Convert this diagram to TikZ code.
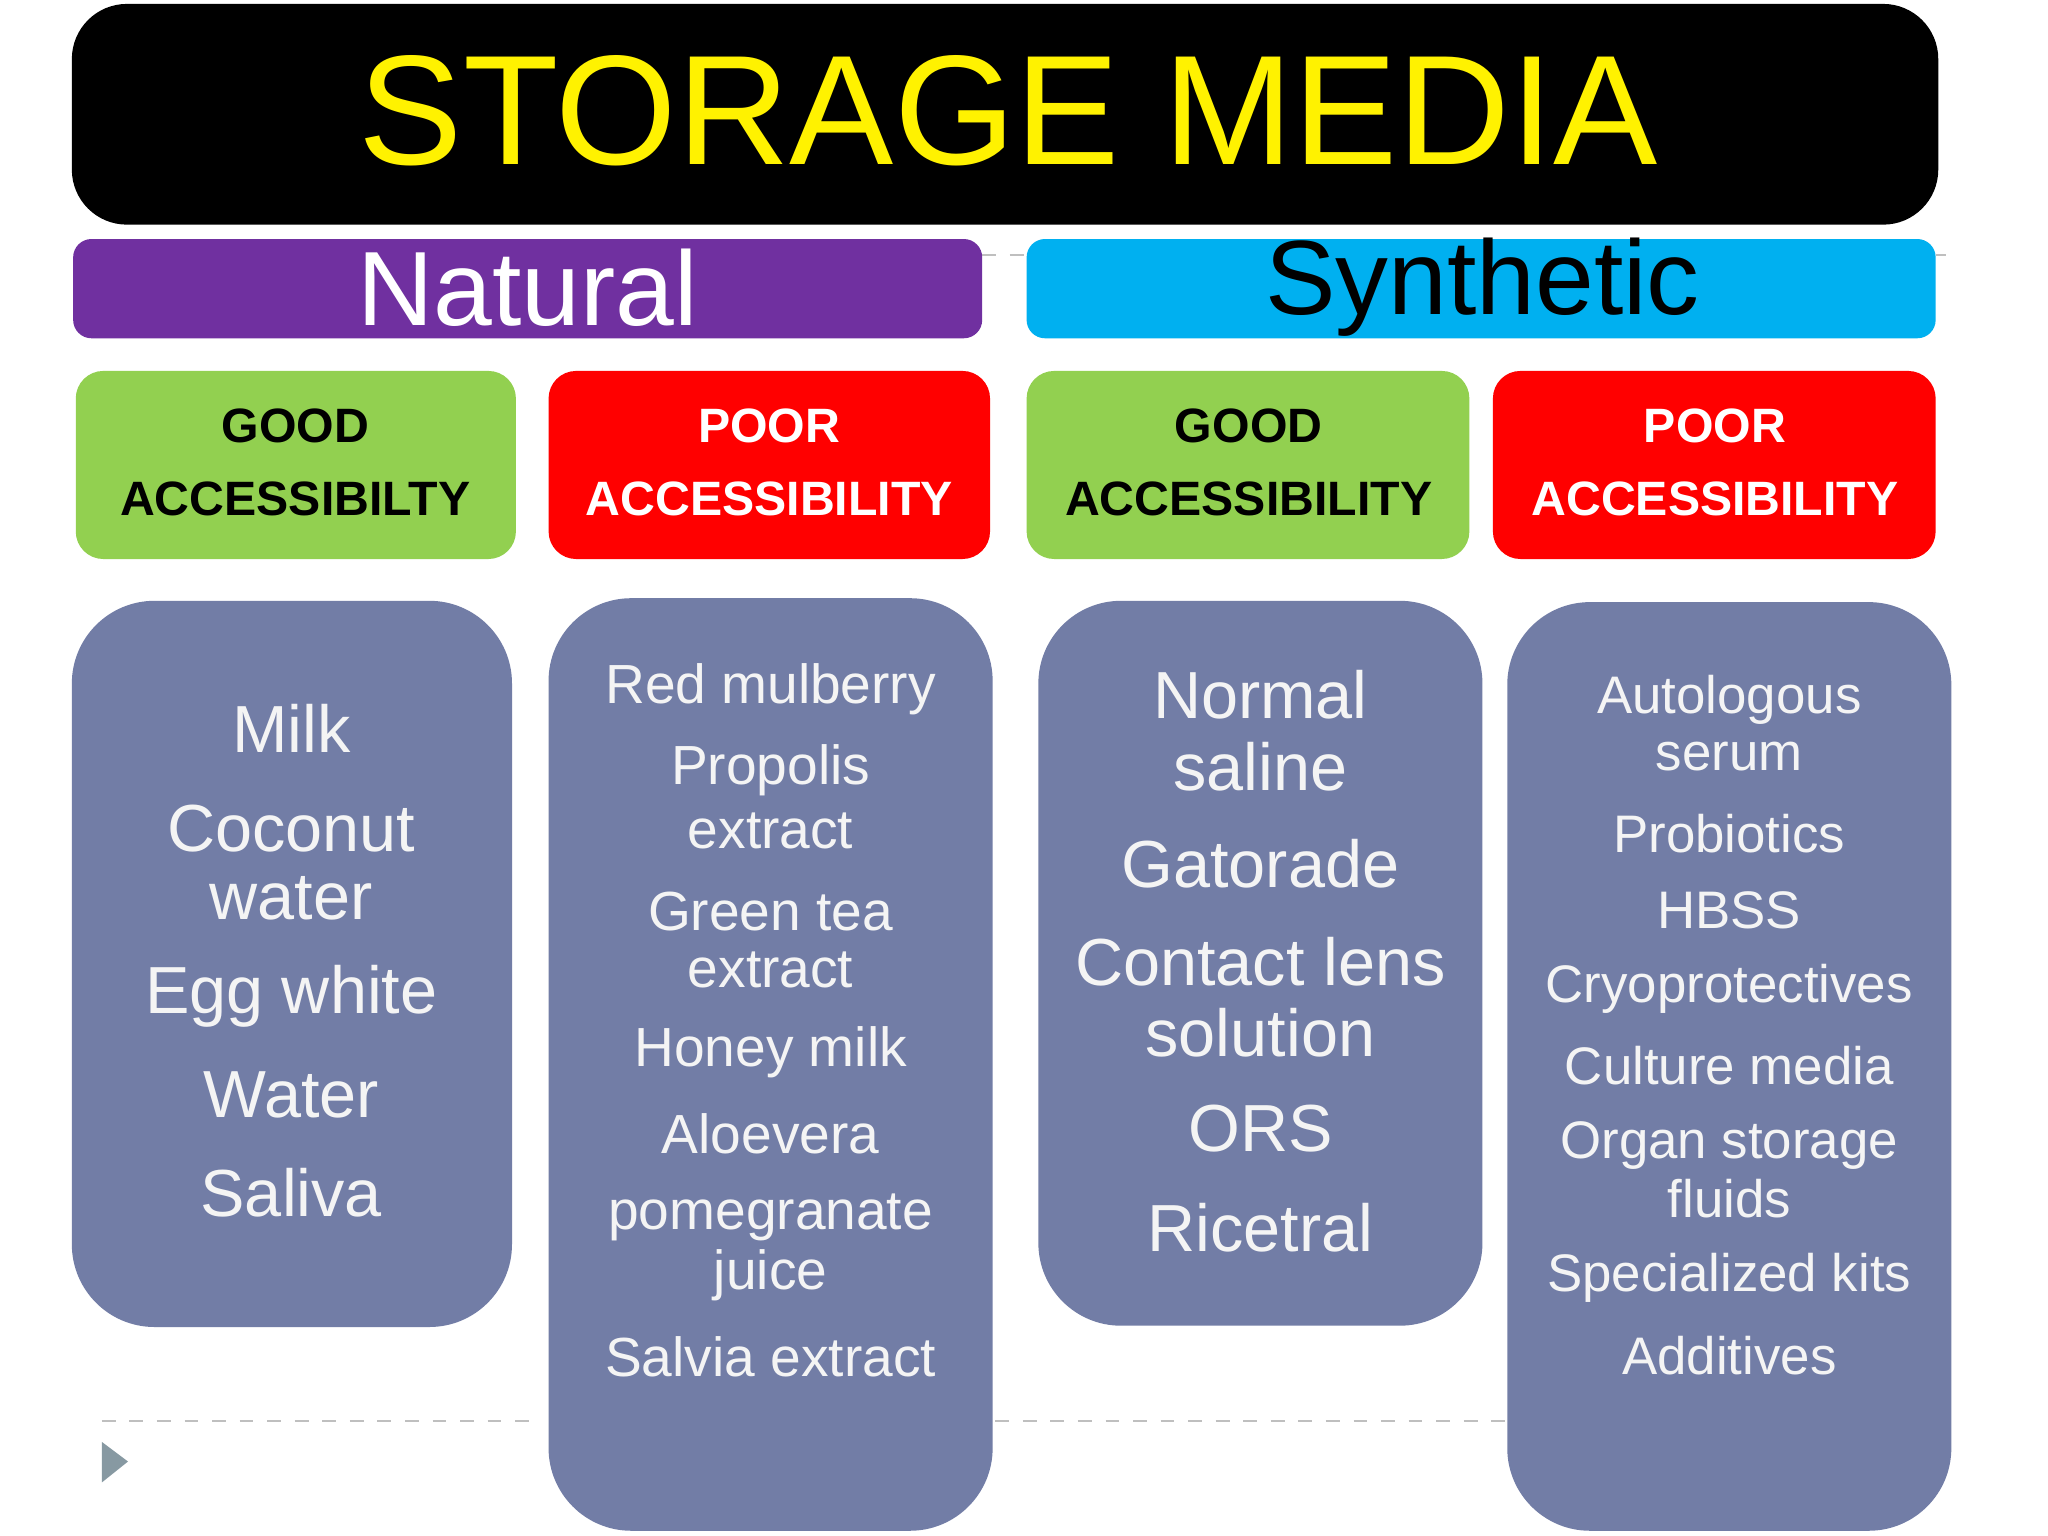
\documentclass[tikz,border=0pt]{standalone}
\usepackage{fontspec}
\setmainfont{Liberation Sans}
\definecolor{slate}{HTML}{727DA6}
\definecolor{gr}{HTML}{92D050}
\definecolor{cy}{HTML}{00B0F0}
\definecolor{pu}{HTML}{7030A0}
\definecolor{txt}{HTML}{F4F4F4}
\tikzset{
 bar/.style={rounded corners=4pt},
 hdr/.style={rounded corners=6pt},
 cbox/.style={fill=slate,rounded corners=18pt},
 htext/.style={font=\fontsize{10.5}{12}\bfseries\selectfont},
 ln/.style={text=txt,inner sep=0pt},
 guide/.style={dashed,draw=gray!50,line width=0.5pt}
}
\begin{document}
\begin{tikzpicture}[x=0.01cm,y=-0.01cm]
\fill[white] (0,0) rectangle (1568,1176);
\useasboundingbox (0,0) rectangle (1568,1176);
% guides
\draw[guide] (752,195) -- (786,195);
\draw[guide] (1482,195) -- (1490,195);
\draw[guide] (78,1088) -- (415,1088);
\draw[guide] (762,1088) -- (1152,1088);
\fill[gray!40!cyan!30!gray] (78,1104) -- (98,1119) -- (78,1135) -- cycle;
% title
\fill[black,rounded corners=12pt] (55,3) rectangle (1484,172);
\node[text=yellow,font=\fontsize{34}{40}\selectfont] (title) at (772,85) {STORAGE MEDIA};
\fill[pu,bar] (56,183) rectangle (752,259);
\node[text=white,font=\fontsize{23}{26}\selectfont] (nat) at (404,220) {Natural};
\fill[cy,bar] (786,183) rectangle (1482,259);
\node[text=black,font=\fontsize{23}{26}\selectfont] (syn) at (1135,220) {Synthetic};
% headers
\fill[gr,hdr] (58,284) rectangle (395,428);
\fill[red,hdr] (420,284) rectangle (758,428);
\fill[gr,hdr] (786,284) rectangle (1125,428);
\fill[red,hdr] (1143,284) rectangle (1482,428);
\node[htext] (h1a) at (226,326) {GOOD};
\node[htext] (h1b) at (226,382) {ACCESSIBILTY};
\node[htext,text=white] (h2a) at (589,326) {POOR};
\node[htext,text=white] (h2b) at (589,382) {ACCESSIBILITY};
\node[htext] (h3a) at (956,326) {GOOD};
\node[htext] (h3b) at (956,382) {ACCESSIBILITY};
\node[htext,text=white] (h4a) at (1313,326) {POOR};
\node[htext,text=white] (h4b) at (1313,382) {ACCESSIBILITY};
% content boxes
\fill[cbox] (55,460) rectangle (392,1016);
\fill[cbox] (420,458) rectangle (760,1172);
\fill[cbox] (795,460) rectangle (1135,1015);
\fill[cbox] (1154,461) rectangle (1494,1172);
\foreach \t/\y [count=\i] in {Milk/558,Coconut/634,water/688,Egg white/763,Water/838,Saliva/913}
  \node[ln,font=\fontsize{14.5}{16}\selectfont] (a\i) at (223,\y) {\t};
\foreach \t/\y [count=\i] in {Red mulberry/528,Propolis/590,extract/636,Green tea/698,extract/743,Honey milk/806,Aloevera/868,pomegranate/932,juice/976,Salvia extract/1039}
  \node[ln,font=\fontsize{12}{14}\selectfont] (b\i) at (590,\y) {\t};
\foreach \t/\y [count=\i] in {Normal/532,saline/587,Gatorade/661,Contact lens/736,solution/791,ORS/864,Ricetral/940}
  \node[ln,font=\fontsize{14.5}{16}\selectfont] (c\i) at (965,\y) {\t};
\foreach \t/\y [count=\i] in {Autologous/536,serum/579,Probiotics/638,HBSS/697,Cryoprotectives/757,Culture media/816,Organ storage/877,fluids/918,Specialized kits/978,Additives/1038}
  \node[ln,font=\fontsize{11.5}{13}\selectfont] (d\i) at (1324,\y) {\t};
\end{tikzpicture}
\end{document}
